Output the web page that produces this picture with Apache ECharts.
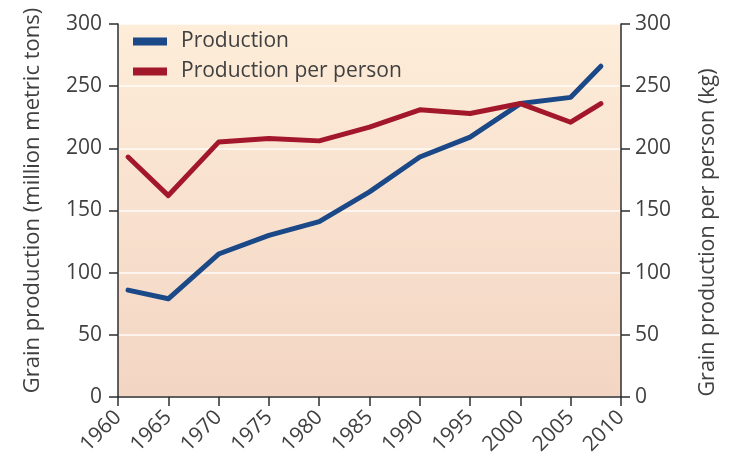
<!DOCTYPE html>
<html>
<head>
<meta charset="utf-8">
<script src="https://cdn.jsdelivr.net/npm/echarts@6/dist/echarts.min.js"></script>
<style>
  html, body { margin: 0; padding: 0; background: #ffffff; }
  #chart { width: 738px; height: 474px; }
</style>
</head>
<body>
<div id="chart"></div>
<script>
// Years sampled for both series
const years = [1961, 1965, 1970, 1975, 1980, 1985, 1990, 1995, 2000, 2005, 2008];
// Total grain production, million metric tons
const production = [86, 79, 115, 130, 141, 165, 193, 209, 236, 241, 266];
// Grain production per person, kg
const perPerson = [193, 162, 205, 208, 206, 217, 231, 228, 236, 221, 236];
// Axis tick settings
const xTicks = { min: 1960, max: 2010, step: 5 };
const yTicks = { min: 0, max: 300, step: 50 };

const pair = (vals) => years.map((y, i) => [y, vals[i]]);

const font = "'Open Sans', 'Noto Sans', sans-serif";
const weight = 'normal';
const textColor = '#404040';
const axisLineColor = '#2e2e2e';

const chart = echarts.init(document.getElementById('chart'), null, { renderer: 'canvas' });

const yAxisBase = {
  type: 'value',
  min: yTicks.min,
  max: yTicks.max,
  interval: yTicks.step,
  nameLocation: 'middle',
  nameRotate: 90,
  axisLine: { show: true, lineStyle: { color: axisLineColor, width: 1.5 } },
  axisTick: { show: true, length: 9, lineStyle: { color: axisLineColor, width: 1.5 } },
  axisLabel: { fontFamily: font, fontWeight: weight, fontSize: 21, color: textColor, margin: 16 },
};

chart.setOption({
  animation: false,
  backgroundColor: '#ffffff',
  grid: {
    left: 118, right: 117, top: 24, bottom: 77,
    show: true,
    borderWidth: 0,
    backgroundColor: new echarts.graphic.LinearGradient(0, 0, 0, 1, [
      { offset: 0, color: '#fdedd9' },
      { offset: 1, color: '#f3d5c3' }
    ])
  },
  legend: {
    left: 128, top: 26, orient: 'vertical',
    itemWidth: 34, itemHeight: 8, itemGap: 9,
    icon: 'rect',
    textStyle: { fontFamily: font, fontWeight: weight, fontSize: 21, color: textColor, padding: [0, 0, 0, 9] },
    data: ['Production', 'Production per person']
  },
  xAxis: {
    type: 'value',
    min: xTicks.min, max: xTicks.max, interval: xTicks.step,
    axisLine: { show: true, lineStyle: { color: axisLineColor, width: 1.5 } },
    axisTick: { show: true, length: 9, inside: false, lineStyle: { color: axisLineColor, width: 1.5 } },
    axisLabel: {
      fontFamily: font, fontWeight: weight, fontSize: 21, color: textColor,
      rotate: 45, margin: 17,
      formatter: (v) => String(v)
    },
    splitLine: { show: false }
  },
  yAxis: [
    Object.assign({}, yAxisBase, {
      position: 'left',
      name: 'Grain production (million metric tons)',
      nameGap: 74,
      nameTextStyle: { fontFamily: font, fontWeight: weight, fontSize: 22, color: textColor, padding: [0, 0, 0, 20] },
      splitLine: { show: true, lineStyle: { color: 'rgba(255,255,255,0.9)', width: 1.5 } }
    }),
    Object.assign({}, yAxisBase, {
      position: 'right',
      name: 'Grain production per person (kg)',
      nameGap: 76,
      nameTextStyle: { fontFamily: font, fontWeight: weight, fontSize: 21.5, color: textColor, padding: [0, 44, 0, 0] },
      axisLabel: Object.assign({}, yAxisBase.axisLabel, { margin: 14 }),
      splitLine: { show: false }
    })
  ],
  series: [
    {
      name: 'Production', type: 'line', yAxisIndex: 0,
      data: pair(production),
      showSymbol: false, symbol: 'none',
      lineStyle: { color: '#1b4887', width: 5, join: 'round', cap: 'round' },
      itemStyle: { color: '#1b4887' }
    },
    {
      name: 'Production per person', type: 'line', yAxisIndex: 1,
      data: pair(perPerson),
      showSymbol: false, symbol: 'none',
      lineStyle: { color: '#a3172a', width: 5, join: 'round', cap: 'round' },
      itemStyle: { color: '#a3172a' }
    }
  ]
});
</script>
</body>
</html>
